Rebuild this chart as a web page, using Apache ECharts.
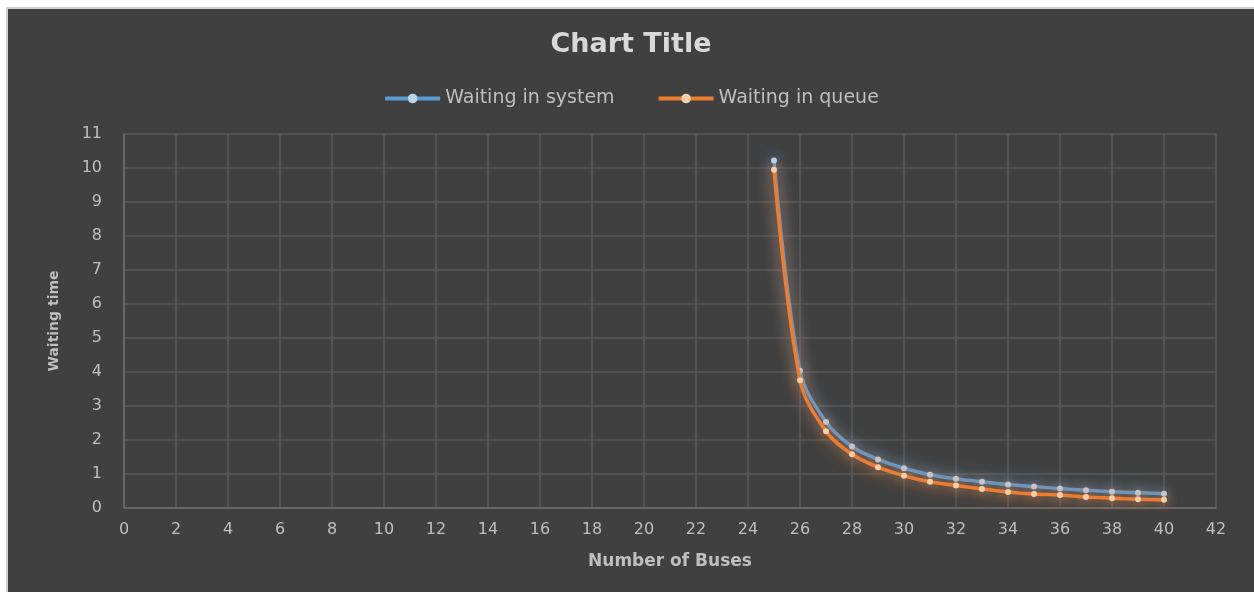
<!DOCTYPE html>
<html>
<head>
<meta charset="utf-8">
<title>Waiting time vs number of buses</title>
<script src="https://cdn.jsdelivr.net/npm/echarts@6/dist/echarts.min.js"></script>
<style>
  html, body { margin: 0; padding: 0; background: #ffffff; }
  #frame {
    position: absolute; left: 6px; top: 7px; width: 1248px; height: 585px;
    border-left: 2px solid #d0d0d0; border-top: 2px solid #d0d0d0;
    background: #404040; box-sizing: border-box;
  }
  #chart { position: absolute; left: 8px; top: 9px; width: 1246px; height: 583px; }
</style>
</head>
<body>
<div id="frame"></div>
<div id="chart"></div>
<script>
// Number of buses (x) and mean waiting times (y)
const buses = [25, 26, 27, 28, 29, 30, 31, 32, 33, 34, 35, 36, 37, 38, 39, 40];
const waitingInSystem = [10.22, 4.04, 2.53, 1.81, 1.43, 1.17, 0.98, 0.86, 0.77, 0.69, 0.63, 0.57, 0.52, 0.48, 0.45, 0.42];
const waitingInQueue  = [9.95, 3.76, 2.26, 1.58, 1.20, 0.95, 0.77, 0.66, 0.56, 0.47, 0.41, 0.38, 0.32, 0.29, 0.26, 0.24];

const seriesNames = ['Waiting in system', 'Waiting in queue'];
const lineColors = ['#5b9bd5', '#ed7d31'];
const markerColors = ['#bcd3ec', '#f9cca6'];

const FONT = 'DejaVu Sans';
const LABEL = '#bfbfbf';

function pairs(ys) { return buses.map((x, i) => [x, ys[i]]); }

function makeSeries(idx, ys) {
  return {
    name: seriesNames[idx],
    type: 'line',
    data: pairs(ys),
    smooth: 0.35,
    symbol: 'circle',
    symbolSize: 6,
    lineStyle: {
      color: lineColors[idx], width: 3.5,
      shadowColor: lineColors[idx], shadowBlur: 16
    },
    itemStyle: {
      color: markerColors[idx], borderWidth: 0,
      shadowColor: lineColors[idx], shadowBlur: 12
    },
    emphasis: { disabled: true },
    z: idx === 0 ? 2 : 3
  };
}

const chart = echarts.init(document.getElementById('chart'), null, { renderer: 'canvas' });
chart.setOption({
  backgroundColor: '#404040',
  animation: false,
  title: {
    text: 'Chart Title',
    left: 'center',
    top: 17,
    textStyle: { fontFamily: FONT, fontSize: 27, fontWeight: 'bold', color: '#d9d9d9' }
  },
  legend: {
    top: 75,
    left: 'center',
    itemWidth: 55,
    itemHeight: 12,
    itemGap: 42,
    textStyle: { fontFamily: FONT, fontSize: 19, color: LABEL },
    data: seriesNames.map((n, i) => ({
      name: n,
      itemStyle: { color: markerColors[i] },
      lineStyle: { color: lineColors[i], width: 4 }
    }))
  },
  grid: { left: 116, top: 125, width: 1092, height: 374 },
  xAxis: {
    type: 'value',
    min: 0, max: 42, interval: 2,
    name: 'Number of Buses',
    nameLocation: 'middle',
    nameGap: 45,
    nameTextStyle: { fontFamily: FONT, fontSize: 17, fontWeight: 'bold', color: LABEL },
    axisLine: { show: true, lineStyle: { color: '#6e6e6e', width: 1.5 } },
    axisTick: { show: false },
    axisLabel: { fontFamily: FONT, fontSize: 16, color: LABEL, margin: 14 },
    splitLine: { show: true, lineStyle: { color: '#5a5a5a', width: 1.5 } }
  },
  yAxis: {
    type: 'value',
    min: 0, max: 11, interval: 1,
    name: 'Waiting time',
    nameLocation: 'middle',
    nameGap: 63,
    nameTextStyle: { fontFamily: FONT, fontSize: 14, fontWeight: 'bold', color: LABEL },
    axisLine: { show: true, lineStyle: { color: '#6e6e6e', width: 1.5 } },
    axisTick: { show: false },
    axisLabel: { fontFamily: FONT, fontSize: 16, color: LABEL, margin: 22 },
    splitLine: { show: true, lineStyle: { color: '#5a5a5a', width: 1.5 } }
  },
  series: [makeSeries(0, waitingInSystem), makeSeries(1, waitingInQueue)]
});
</script>
</body>
</html>
